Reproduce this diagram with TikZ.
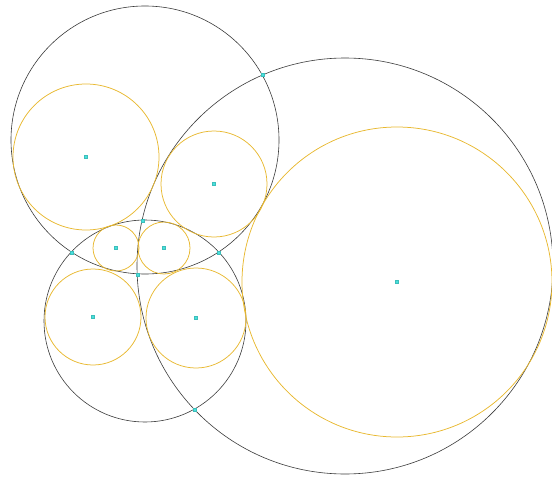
\documentclass[tikz,border=0pt]{standalone}
\usetikzlibrary{positioning}
\definecolor{ringline}{HTML}{3A3A3A}
\definecolor{fitline}{HTML}{E8B830}
\definecolor{dotfill}{HTML}{48E0DC}
\tikzset{
 ring/.style={draw=ringline,line width=.6pt},
 fit circle/.style={draw=fitline,line width=.75pt},
 dot/.style={draw=dotfill!85!black,fill=dotfill,line width=.15pt,minimum size=3pt,inner sep=0pt,outer sep=0pt,shape=rectangle},
}

\begin{document}
\begin{tikzpicture}[x=1pt,y=-1pt]

\useasboundingbox (0,0) rectangle (552,479);
% black circles
\draw[ring] (145,140) circle[radius=134];
\draw[ring] (345,266) circle[radius=208];
\draw[ring] (145,321) circle[radius=101];
% yellow circles
\draw[fit circle] (397,282) circle[radius=155];
\draw[fit circle] (86,157) circle[radius=73];
\draw[fit circle] (214,184) circle[radius=53];
\draw[fit circle] (116,248) circle[radius=23];
\draw[fit circle] (164,248) circle[radius=26];
\draw[fit circle] (93,317) circle[radius=48];
\draw[fit circle] (196,318) circle[radius=50];
% centres
\node[dot] (cbig) at (397,282) {};
\node[dot] (ctopleft) at (86,157) {};
\node[dot] (cupper) at (214,184) {};
\node[dot] (csmalla) at (116,248) {};
\node[dot] (csmallb) at (164,248) {};
\node[dot] (clowleft) at (93,317) {};
\node[dot] (clowright) at (196,318) {};
% crossings
\node[dot] (xtop) at (263,75) {};
\node[dot] (xbottom) at (195,410) {};
\node[dot] (xleft) at (72,253) {};
\node[dot] (xright) at (219,253) {};
\node[dot] (xmidtop) at (143,221) {};
\node[dot] (xmidlow) at (138,275) {};

\end{tikzpicture}
\end{document}
